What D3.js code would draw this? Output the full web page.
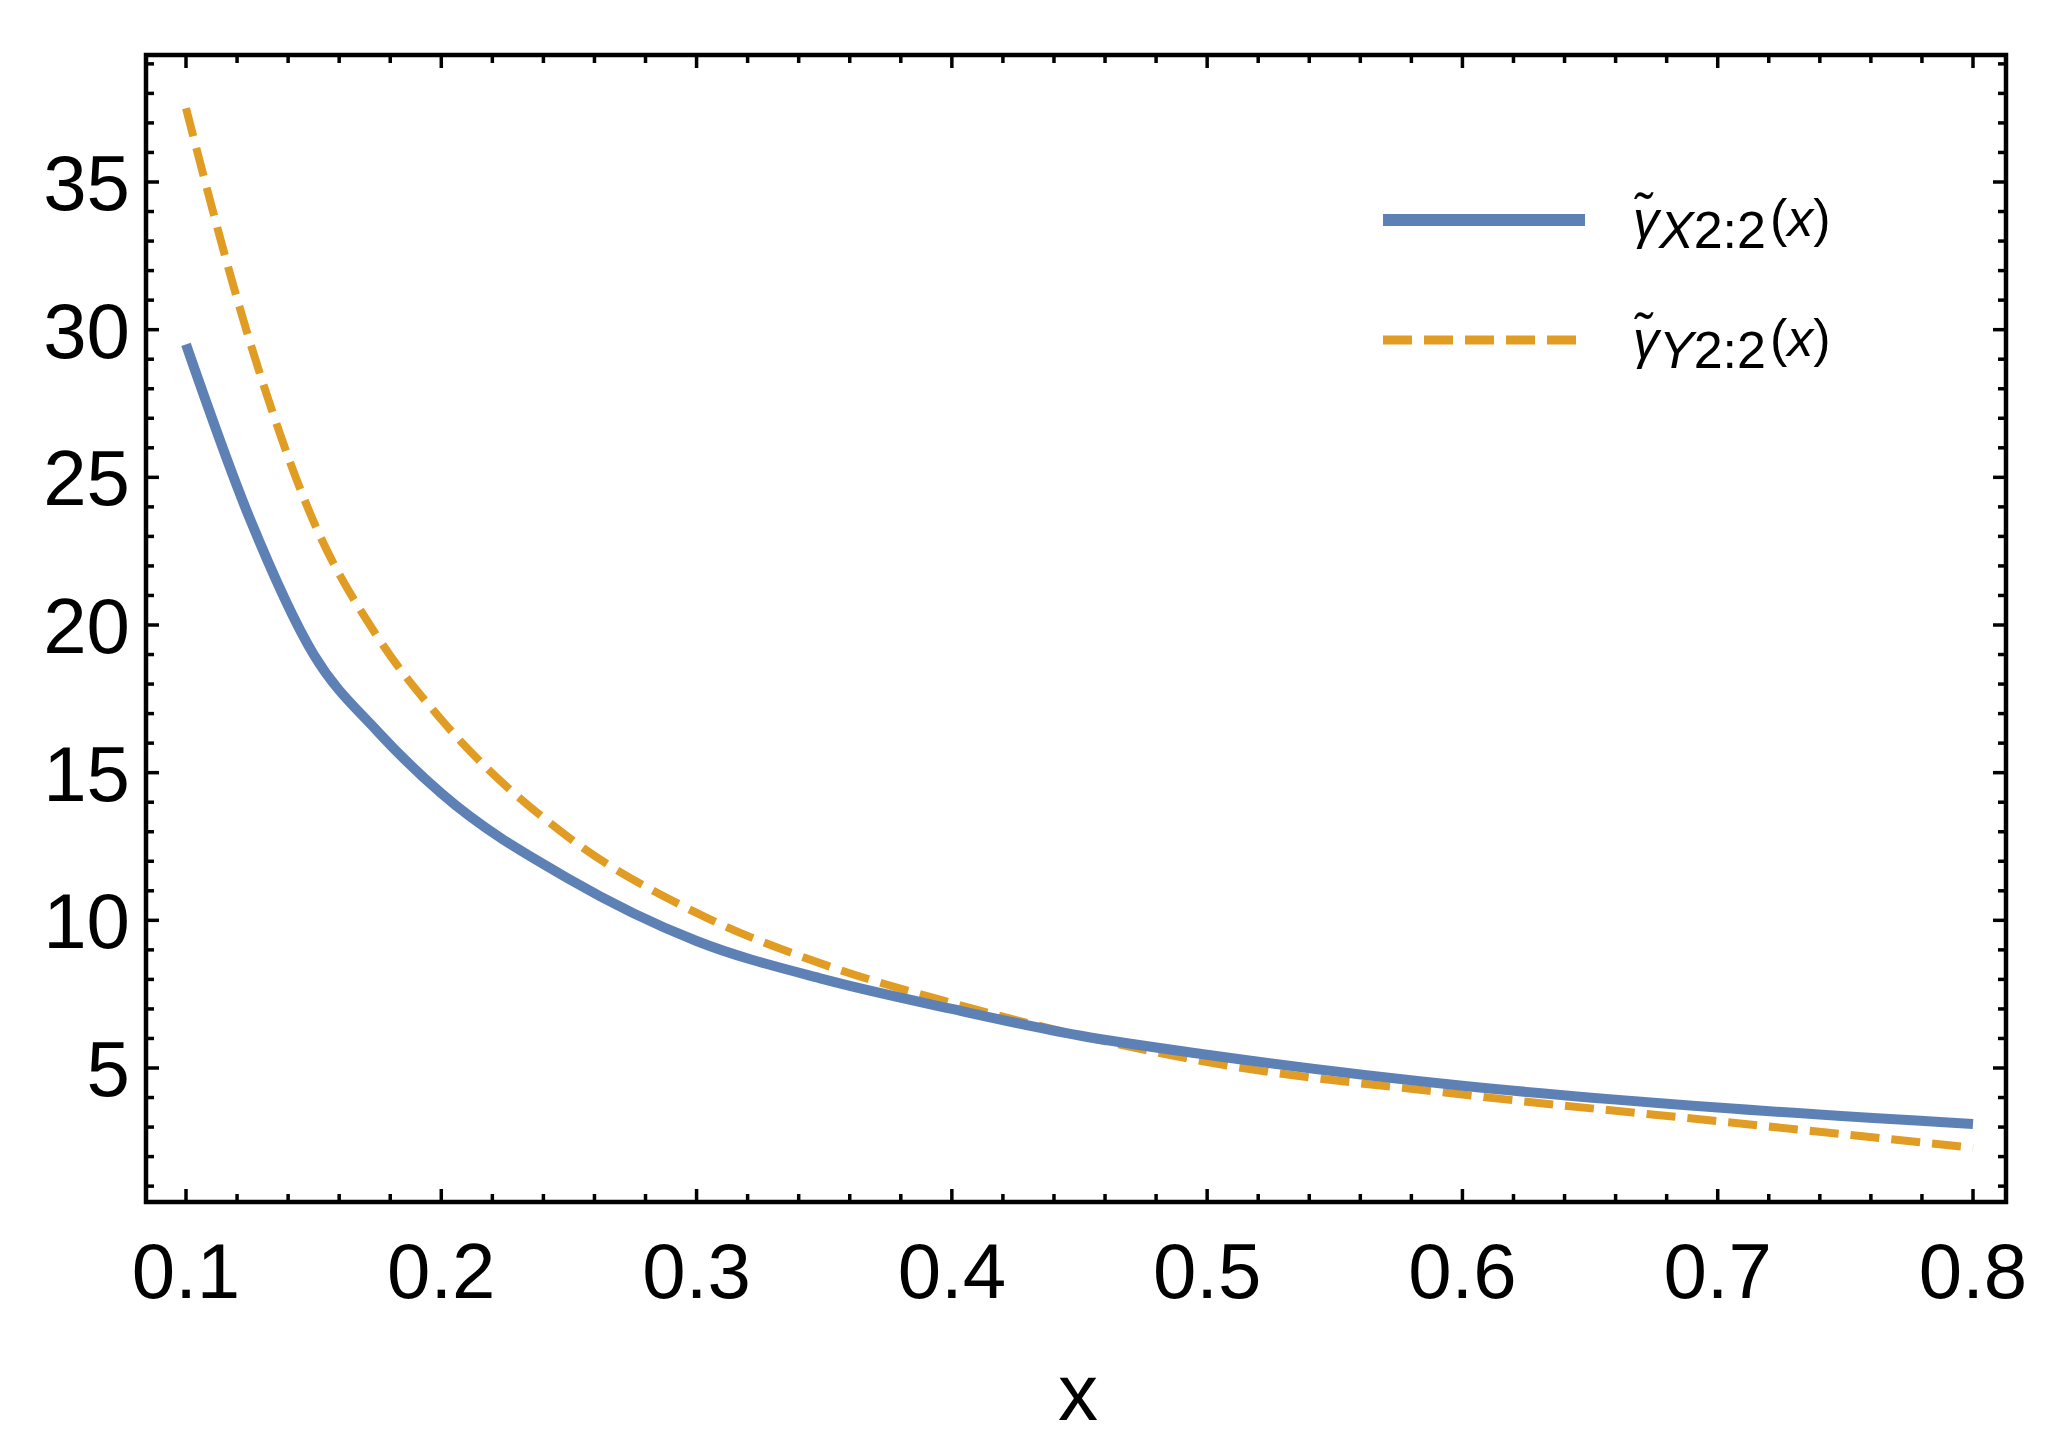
<!DOCTYPE html><html><head><meta charset="utf-8">
<script src="https://cdn.jsdelivr.net/npm/d3@7"></script>
<style>body{margin:0;background:#fff}</style></head><body>
<svg id="c" width="2056" height="1450"></svg>
<script>
const xs = [0.1,0.125,0.15,0.175,0.2,0.25,0.3,0.35,0.4,0.45,0.5,0.6,0.7,0.8];
const blueVals = [29.5,23.6,19.0,16.4,14.3,11.4,9.3,8.0,7.0,6.1,5.45,4.4,3.66,3.1];
const orangeVals = [37.5,29.6,23.5,19.6,16.8,12.8,10.25,8.5,7.2,6.1,5.2,4.1,3.2,2.3];
const xTicks = [0.1,0.2,0.3,0.4,0.5,0.6,0.7,0.8];
const yTicks = [5,10,15,20,25,30,35];
const legendLabels = [["X"],["Y"]];

const svg = d3.select("#c");
const L=146,R=2006,T=55,B=1202;
const x = d3.scaleLinear().domain([0.1,0.8]).range([186,1973]);
const y = d3.scaleLinear().domain([5,35]).range([1068,182]);
const font = "'Liberation Sans', Arial, sans-serif";

svg.append("rect").attr("x",L).attr("y",T).attr("width",R-L).attr("height",B-T)
  .attr("fill","none").attr("stroke","#000").attr("stroke-width",4.5);

const xMinor = d3.range(0.02,0.99,0.02).map(v=>+v.toFixed(2)).filter(v=>x(v)>L+2&&x(v)<R-2);
const yMinor = d3.range(1,40,1).filter(v=>y(v)>T+2&&y(v)<B-2);
const g = svg.append("g").attr("stroke","#000");
xMinor.forEach(v=>{const maj=Math.abs(v*10-Math.round(v*10))<1e-6; const len=maj?13:8;
  g.append("line").attr("x1",x(v)).attr("x2",x(v)).attr("y1",B).attr("y2",B-len).attr("stroke-width",3.5);
  g.append("line").attr("x1",x(v)).attr("x2",x(v)).attr("y1",T).attr("y2",T+len).attr("stroke-width",3.5);});
yMinor.forEach(v=>{const maj=v%5===0; const len=maj?13:8;
  g.append("line").attr("y1",y(v)).attr("y2",y(v)).attr("x1",L).attr("x2",L+len).attr("stroke-width",3.5);
  g.append("line").attr("y1",y(v)).attr("y2",y(v)).attr("x1",R).attr("x2",R-len).attr("stroke-width",3.5);});

svg.append("g").selectAll("text").data(xTicks).join("text")
  .attr("x",d=>x(d)).attr("y",1298).attr("text-anchor","middle")
  .attr("font-family",font).attr("font-size",78).text(d=>d.toFixed(1));
svg.append("g").selectAll("text").data(yTicks).join("text")
  .attr("x",130).attr("y",d=>y(d)+28).attr("text-anchor","end")
  .attr("font-family",font).attr("font-size",78).text(d=>d);
svg.append("text").attr("x",1078).attr("y",1420).attr("text-anchor","middle")
  .attr("font-family",font).attr("font-size",80).text("x");

const line = d3.line().x((d,i)=>x(xs[i])).y(d=>y(d)).curve(d3.curveMonotoneX);
svg.append("path").attr("d",line(orangeVals)).attr("fill","none").attr("stroke","#E19C24")
  .attr("stroke-width",8).attr("stroke-dasharray","29,12");
svg.append("path").attr("d",line(blueVals)).attr("fill","none").attr("stroke","#5E81B5")
  .attr("stroke-width",10);

// legend
svg.append("line").attr("x1",1383).attr("x2",1585).attr("y1",220).attr("y2",220)
  .attr("stroke","#5E81B5").attr("stroke-width",12);
svg.append("line").attr("x1",1383).attr("x2",1578).attr("y1",340).attr("y2",340)
  .attr("stroke","#E19C24").attr("stroke-width",9).attr("stroke-dasharray","29,12");
legendLabels.forEach((s,i)=>{
  const t = svg.append("text").attr("x",1633).attr("y",[238,358][i])
    .attr("font-family",font).attr("font-size",52);
  t.append("tspan").attr("font-style","italic").text("γ̃");
  t.append("tspan").attr("dy",10).attr("font-style","italic").text(s[0]);
  t.append("tspan").text("2:2");
  t.append("tspan").attr("dy",-12).attr("dx",4).text("(");
  t.append("tspan").attr("font-style","italic").text("x");
  t.append("tspan").text(")");
});
</script></body></html>
